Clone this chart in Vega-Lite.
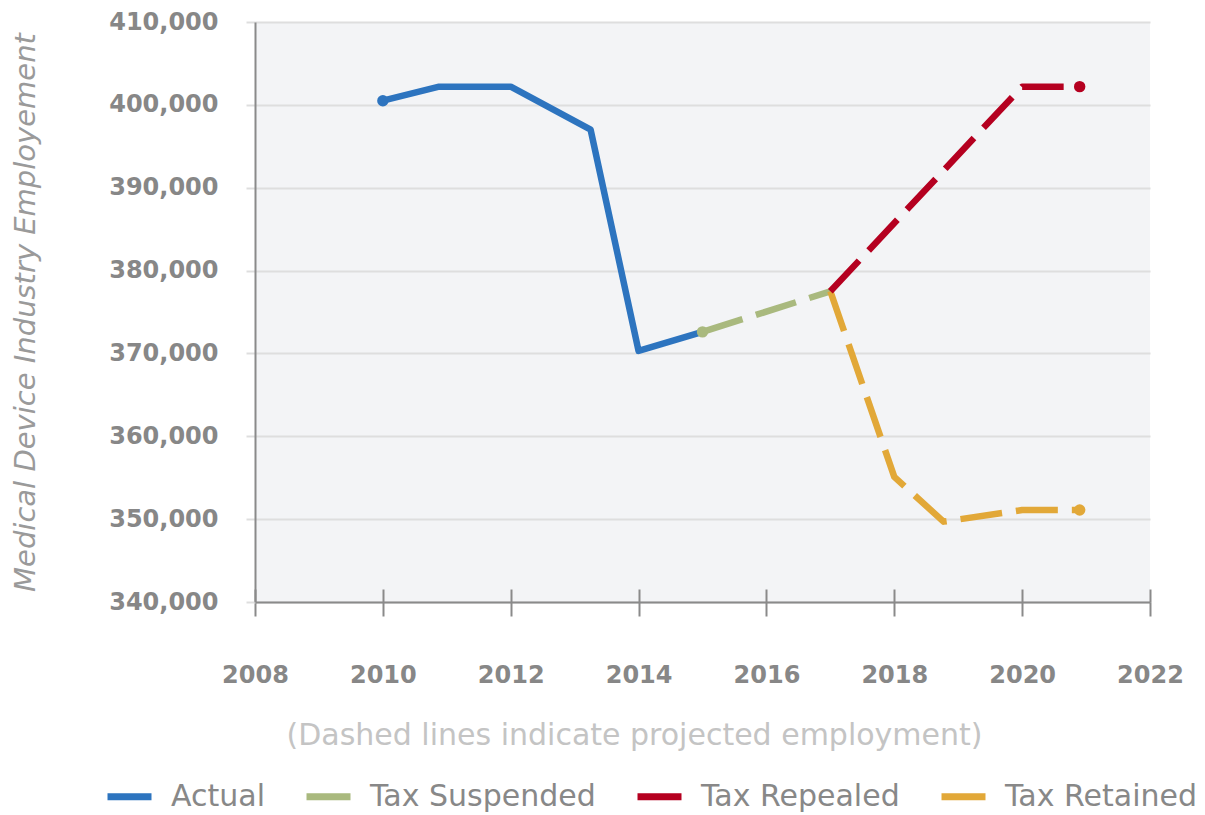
{
  "$schema": "https://vega.github.io/schema/vega-lite/v6.json",
  "width": 895,
  "height": 580,
  "autosize": {"type": "none"},
  "padding": {"left": 255, "top": 22, "right": 55, "bottom": 213},
  "background": "#ffffff",
  "config": {
    "view": {"fill": "#f3f4f6", "stroke": null},
    "font": "DejaVu Sans",
    "legend": {"symbolDash": [1, 0]}
  },
  "data": {
    "values": [
      {"series": "Actual", "year": 2010, "value": 400500, "projected": "no", "dot": true},
      {"series": "Actual", "year": 2010.88, "value": 402200, "projected": "no", "dot": false},
      {"series": "Actual", "year": 2012, "value": 402200, "projected": "no", "dot": false},
      {"series": "Actual", "year": 2013.25, "value": 397000, "projected": "no", "dot": false},
      {"series": "Actual", "year": 2014, "value": 370300, "projected": "no", "dot": false},
      {"series": "Actual", "year": 2015, "value": 372600, "projected": "no", "dot": false},
      {"series": "Tax Suspended", "year": 2015, "value": 372600, "projected": "yes", "dot": true},
      {"series": "Tax Suspended", "year": 2017, "value": 377500, "projected": "yes", "dot": false},
      {"series": "Tax Retained", "year": 2017, "value": 377500, "projected": "yes", "dot": false},
      {"series": "Tax Retained", "year": 2018, "value": 355100, "projected": "yes", "dot": false},
      {"series": "Tax Retained", "year": 2018.77, "value": 349700, "projected": "yes", "dot": false},
      {"series": "Tax Retained", "year": 2020, "value": 351100, "projected": "yes", "dot": false},
      {"series": "Tax Retained", "year": 2020.9, "value": 351100, "projected": "yes", "dot": true},
      {"series": "Tax Repealed", "year": 2017, "value": 377500, "projected": "yes", "dot": false},
      {"series": "Tax Repealed", "year": 2020, "value": 402200, "projected": "yes", "dot": false},
      {"series": "Tax Repealed", "year": 2020.9, "value": 402200, "projected": "yes", "dot": true}
    ]
  },
  "resolve": {"axis": {"x": "independent"}},
  "encoding": {
    "y": {
      "field": "value",
      "type": "quantitative",
      "scale": {"domain": [340000, 410000], "nice": false, "zero": false},
      "axis": {
        "values": [340000, 350000, 360000, 370000, 380000, 390000, 400000, 410000],
        "format": ",.0f",
        "grid": true,
        "gridColor": "#dedede",
        "gridWidth": 2,
        "domainColor": "#8a8a8a",
        "domainWidth": 2,
        "tickColor": "#dedede",
        "tickWidth": 2,
        "tickSize": 9,
        "labelFont": "DejaVu Sans",
        "labelFontWeight": "bold",
        "labelFontSize": 24,
        "labelColor": "#878787",
        "labelPadding": 28,
        "title": "Medical Device Industry Employement",
        "titleFont": "DejaVu Sans",
        "titleFontStyle": "italic",
        "titleFontWeight": "normal",
        "titleFontSize": 29,
        "titleColor": "#9a9a9a",
        "titleAngle": -90,
        "titleX": -230,
        "titleY": 290,
        "titleAlign": "center",
        "titleAnchor": null,
        "titleBaseline": "middle"
      }
    }
  },
  "layer": [
    {
      "transform": [{"filter": "datum.projected == 'no'"}],
      "mark": {"type": "line", "strokeWidth": 6.5, "strokeJoin": "round", "strokeCap": "butt"},
      "encoding": {
        "x": {
          "field": "year",
          "type": "quantitative",
          "scale": {"domain": [2008, 2022], "nice": false, "zero": false},
          "axis": {
            "values": [2008, 2010, 2012, 2014, 2016, 2018, 2020, 2022],
            "format": "d",
            "grid": false,
            "orient": "bottom",
            "domainColor": "#8a8a8a",
            "domainWidth": 2,
            "tickColor": "#8a8a8a",
            "tickWidth": 2,
            "tickSize": 14,
            "labelFont": "DejaVu Sans",
            "labelFontWeight": "bold",
            "labelFontSize": 24,
            "labelColor": "#878787",
            "labelPadding": 47,
            "labelFlush": false,
            "labelOverlap": false,
            "labelBound": false,
            "title": "(Dashed lines indicate projected employment)",
            "titleFont": "DejaVu Sans",
            "titleFontWeight": "normal",
            "titleFontSize": 30,
            "titleColor": "#c4c4c4",
            "titleX": 379,
            "titleY": 133,
            "titleAlign": "center",
            "titleAnchor": null,
            "titleBaseline": "middle"
          }
        },
        "color": {
          "field": "series",
          "type": "nominal",
          "scale": {
            "domain": ["Actual", "Tax Suspended", "Tax Repealed", "Tax Retained"],
            "range": ["#2d74bf", "#a9b97e", "#b50020", "#e2a838"]
          },
          "legend": {
            "orient": "none",
            "direction": "horizontal",
            "legendX": -151,
            "legendY": 749,
            "title": null,
            "symbolType": "stroke",
            "symbolSize": 1936,
            "symbolStrokeWidth": 7,
            "symbolDash": [1, 0],
            "labelFont": "DejaVu Sans",
            "labelFontSize": 30,
            "labelColor": "#888888",
            "labelOffset": 16,
            "columnPadding": 27,
            "labelLimit": 400
          }
        },
        "order": {"field": "year", "type": "quantitative"}
      }
    },
    {
      "transform": [{"filter": "datum.projected == 'yes'"}],
      "mark": {"type": "line", "strokeWidth": 6.5, "strokeJoin": "round", "strokeCap": "butt", "strokeDash": [42, 14]},
      "encoding": {
        "x": {"field": "year", "type": "quantitative", "axis": null},
        "color": {"field": "series", "type": "nominal", "legend": null},
        "order": {"field": "year", "type": "quantitative"}
      }
    },
    {
      "transform": [{"filter": "datum.dot"}],
      "mark": {"type": "circle", "size": 130, "opacity": 1},
      "encoding": {
        "x": {
          "field": "year",
          "type": "quantitative",
          "axis": {
            "orient": "bottom",
            "offset": -13,
            "values": [2008, 2010, 2012, 2014, 2016, 2018, 2020, 2022],
            "domain": false,
            "labels": false,
            "grid": false,
            "title": null,
            "ticks": true,
            "tickSize": 13,
            "tickWidth": 2,
            "tickColor": "#8a8a8a"
          }
        },
        "color": {"field": "series", "type": "nominal", "legend": null}
      }
    }
  ]
}
